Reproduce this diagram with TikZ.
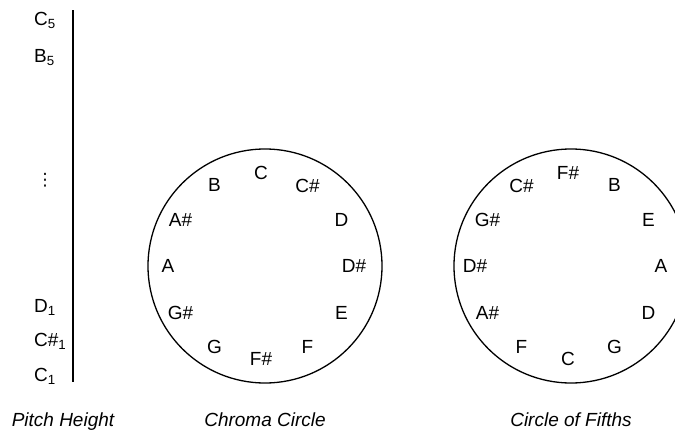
\documentclass[tikz,border=0pt]{standalone}
\usepackage{fontspec}
\setmainfont{Liberation Sans}
\newfontfamily\symfont{DejaVu Sans}
\begin{document}
\begin{tikzpicture}[x=1pt,y=-1pt,
  every node/.style={font=\fontsize{19}{21}\selectfont},
  tone/.style={inner sep=0pt},
  pitch/.style={tone,anchor=base west},
  caption/.style={font=\fontsize{19}{22}\selectfont\itshape,anchor=base},
  wheel/.style={draw,circle,line width=1.3pt,minimum size=234pt,inner sep=0pt}]
\useasboundingbox (0,0) rectangle (675,431);
\clip (0,0) rectangle (675,431);
% pitch height
\coordinate (axistop) at (73,10);
\coordinate (axisbottom) at (73,382);
\draw[line width=1.8pt] (axistop) -- (axisbottom);
\node[pitch] (c5) at (34,25) {C\textsubscript{5}};
\node[pitch] (b5) at (34,62) {B\textsubscript{5}};
\node[tone,font=\symfont\fontsize{17}{19}\selectfont] (dots) at (45,180) {⋮};
\node[pitch] (d1) at (34,312) {D\textsubscript{1}};
\node[pitch] (cs1) at (34,346) {C\#\textsubscript{1}};
\node[pitch] (c1) at (34,381) {C\textsubscript{1}};
% chroma circle
\node[wheel] (chroma) at (265,266) {};
\foreach \t [count=\i from 0] in {C,C\#,D,D\#,E,F,F\#,G,G\#,A,A\#,B}
  \node[tone] (chroma-\i) at ([shift={(90-30*\i:93pt)},xshift=-4pt]chroma.center) {\t};
% circle of fifths
\node[wheel] (fifths) at (571,266) {};
\foreach \t [count=\i from 0] in {F\#,B,E,A,D,G,C,F,A\#,D\#,G\#,C\#}
  \node[tone] (fifths-\i) at ([shift={(90-30*\i:93pt)},xshift=-3pt]fifths.center) {\t};
% captions
\node[caption] (pitchcap) at (63,426) {Pitch Height};
\node[caption] (chromacap) at (265,426) {Chroma Circle};
\node[caption] (fifthscap) at (571,426) {Circle of Fifths};
\end{tikzpicture}
\end{document}
